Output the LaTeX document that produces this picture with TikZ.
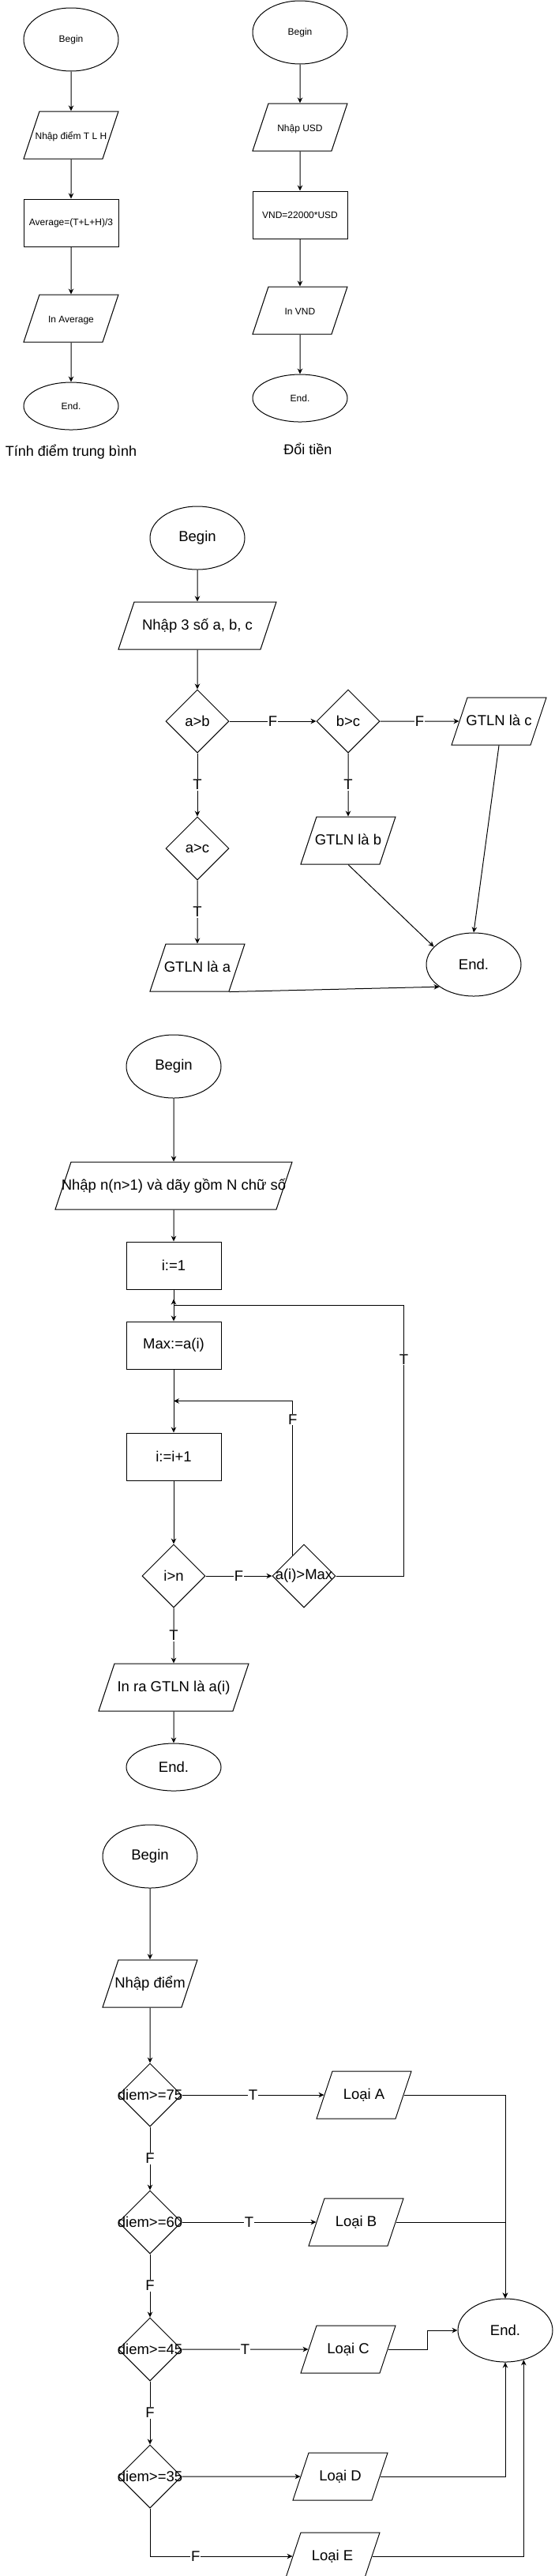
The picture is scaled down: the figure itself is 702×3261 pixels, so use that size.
\documentclass[tikz,border=0pt]{standalone}
\usepackage{fontspec}
\setmainfont{Liberation Sans}
\usetikzlibrary{arrows.meta,positioning,calc,shapes.geometric}

\begin{document}
\begin{tikzpicture}[
  x=1pt, y=1pt, line width=1pt,
  font=\fontsize{18.5}{22}\selectfont,
  term/.style={draw, ellipse, minimum width=120pt, minimum height=80pt, inner sep=0pt},
  termflat/.style={term, minimum height=60pt},
  io/.style={draw, trapezium, trapezium left angle=71.565, trapezium right angle=108.435,
    trapezium stretches body, minimum width=120pt, text height=14pt, text depth=3pt,
    inner xsep=-12pt, inner ysep=21.5pt},
  proc/.style={draw, rectangle, minimum width=120pt, minimum height=60pt, inner sep=0pt},
  decision/.style={draw, diamond, minimum width=80pt, minimum height=80pt, inner xsep=-30pt, inner ysep=0pt},
  small/.style={font=\fontsize{12}{14}\selectfont},
  heading/.style={font=\fontsize{18}{22}\selectfont},
  lbl/.style={fill=white, inner sep=1pt},
  arr/.style={-{Stealth[length=7pt, width=6.5pt]}}
]
\useasboundingbox (0,0) rectangle (702,-3261);

\node[term, small] (beginA) at (90,-50) {Begin};
\node[io, small, below=50pt of beginA] (inA) {Nhập điểm T L H};
\node[proc, small, below=50pt of inA] (avgA) {Average=(T+L+H)/3};
\node[io, small, below=60pt of avgA] (outA) {In Average};
\node[termflat, small, below=50pt of outA] (endA) {End.};
\node[heading] (titleA) at (90,-572) {Tính điểm trung bình};
\draw[arr] (beginA) -- (inA);
\draw[arr] (inA) -- (avgA);
\draw[arr] (avgA) -- (outA);
\draw[arr] (outA) -- (endA);

\node[term, small] (beginB) at (380,-41) {Begin};
\node[io, small, below=49pt of beginB] (inB) {Nhập USD};
\node[proc, small, below=50pt of inB] (calcB) {VND=22000*USD};
\node[io, small, below=60pt of calcB] (outB) {In VND};
\node[termflat, small, below=50pt of outB] (endB) {End.};
\node[heading] (titleB) at (390,-568) {Đổi tiền};
\draw[arr] (beginB) -- (inB);
\draw[arr] (inB) -- (calcB);
\draw[arr] (calcB) -- (outB);
\draw[arr] (outB) -- (endB);

\node[term] (beginC) at (250,-681) {Begin};
\node[io, minimum width=200pt, below=40pt of beginC] (inC) {Nhập 3 số a, b, c};
\node[decision, below=50pt of inC] (ab) {a>b};
\node[decision, right=110pt of ab] (bc) {b>c};
\node[io, right=100pt of bc] (maxc) {GTLN là c};
\node[decision, below=80pt of ab] (ac) {a>c};
\node[io, below=80pt of bc] (maxb) {GTLN là b};
\node[io, below=80pt of ac] (maxa) {GTLN là a};
\node[term] (endC) at (600,-1221) {End.};
\draw[arr] (beginC) -- (inC);
\draw[arr] (inC) -- (ab);
\draw[arr] (ab) -- node[lbl]{F} (bc);
\draw[arr] (bc) -- node[lbl]{F} (maxc);
\draw[arr] (ab) -- node[lbl]{T} (ac);
\draw[arr] (bc) -- node[lbl]{T} (maxb);
\draw[arr] (ac) -- node[lbl]{T} (maxa);
\draw[arr] (maxa.bottom right corner) -- (endC.213);
\draw[arr] (maxb.south) -- (endC.156);
\draw[arr] (maxc.south) -- (endC.north);

\node[term] (beginD) at (220,-1350) {Begin};
\node[io, minimum width=300pt, inner xsep=-30pt, below=80pt of beginD] (inD) {Nhập n(n>1) và dãy gồm N chữ số};
\node[proc, below=40pt of inD] (init) {i:=1};
\node[proc, below=40pt of init] (maxset) {Max:=a(i)};
\node[proc, below=80pt of maxset] (inc) {i:=i+1};
\node[decision, below=80pt of inc] (ign) {i>n};
\node[decision, right=84pt of ign] (aimax) {a(i)>Max};
\node[io, minimum width=190pt, below=70pt of ign] (outD) {In ra GTLN là a(i)};
\node[termflat, below=40pt of outD] (endD) {End.};
\coordinate[below=12pt of init] (tback);
\coordinate[below=20pt of init] (tjoin);
\coordinate[below=40pt of maxset] (fback);
\coordinate (fstart) at ($(aimax.north)!0.35!(aimax.west)$);
\draw[arr] (beginD) -- (inD);
\draw[arr] (inD) -- (init);
\draw[arr] (init) -- (maxset);
\draw[arr] (maxset) -- (inc);
\draw[arr] (inc) -- (ign);
\draw[arr] (ign) -- node[lbl]{F} (aimax);
\draw[arr] (ign) -- node[lbl]{T} (outD);
\draw[arr] (outD) -- (endD);
\draw[arr] (fstart) |- node[lbl, pos=0.44]{F} (fback);
\draw[arr] (aimax.east) -- ++(86pt,0) |- node[lbl, pos=0.4]{T} (tjoin) -- (tback);

\node[term] (beginE) at (190,-2350) {Begin};
\node[io, below=90pt of beginE] (inE) {Nhập điểm};
\node[decision, below=70pt of inE] (d75) {diem>=75};
\node[decision, below=80pt of d75] (d60) {diem>=60};
\node[decision, below=80pt of d60] (d45) {diem>=45};
\node[decision, below=80pt of d45] (d35) {diem>=35};
\node[io, right=180pt of d75] (loaiA) {Loại A};
\node[io, right=170pt of d60] (loaiB) {Loại B};
\node[io, right=160pt of d45] (loaiC) {Loại C};
\node[io, right=150pt of d35] (loaiD) {Loại D};
\node[io, below=40pt of loaiD, xshift=-10pt] (loaiE) {Loại E};
\node[term] (endE) at (640,-2950) {End.};
\draw[arr] (beginE) -- (inE);
\draw[arr] (inE) -- (d75);
\draw[arr] (d75) -- node[lbl]{F} (d60);
\draw[arr] (d60) -- node[lbl]{F} (d45);
\draw[arr] (d45) -- node[lbl]{F} (d35);
\draw[arr] (d75) -- node[lbl]{T} (loaiA);
\draw[arr] (d60) -- node[lbl]{T} (loaiB);
\draw[arr] (d45) -- node[lbl]{T} (loaiC);
\draw[arr] (d35) -- (loaiD);
\draw[arr] (d35) |- node[lbl, pos=0.66]{F} (loaiE);
\draw[arr] (loaiA) -| (endE);
\draw[arr] (loaiB) -| (endE);
\draw[arr] (loaiC.east) -- ++(50pt,0) |- (endE);
\draw[arr] (loaiD) -| (endE);
\draw[arr] (loaiE) -| (endE.-58);

\end{tikzpicture}
\end{document}
